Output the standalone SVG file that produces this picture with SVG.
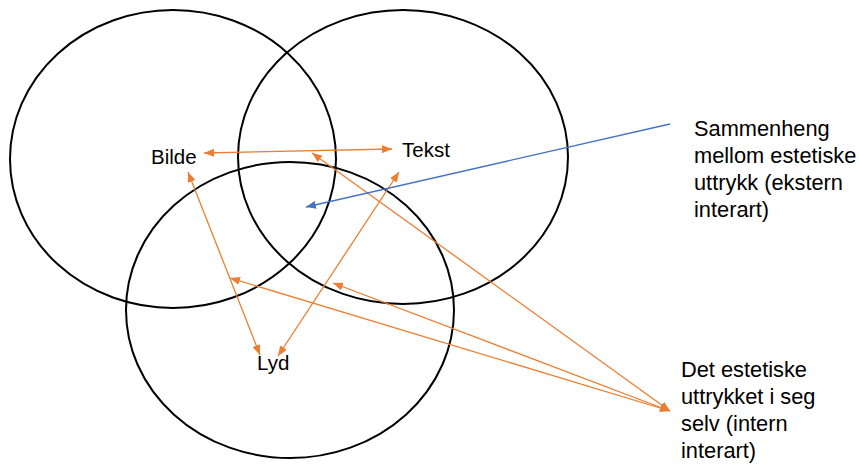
<svg xmlns="http://www.w3.org/2000/svg" width="859" height="467" viewBox="0 0 859 467">
<defs>
<marker id="ao" viewBox="0 0 10 8" refX="10" refY="4" markerWidth="10" markerHeight="8" markerUnits="userSpaceOnUse" orient="auto-start-reverse"><path d="M0,0 L10,4 L0,8 Z" fill="#ED7D31"/></marker>
<marker id="ab" viewBox="0 0 10 8" refX="10" refY="4" markerWidth="10" markerHeight="8" markerUnits="userSpaceOnUse" orient="auto-start-reverse"><path d="M0,0 L10,4 L0,8 Z" fill="#4472C4"/></marker>
<style>
.c{fill:none;stroke:#000;stroke-width:2}
.o{fill:none;stroke:#ED7D31;stroke-width:1.3;marker-start:url(#ao);marker-end:url(#ao)}
.b{fill:none;stroke:#4472C4;stroke-width:1.3;marker-end:url(#ab)}
text{font-family:"Liberation Sans",Arial,sans-serif;fill:#000}
.n{font-size:20.5px}
.l{font-size:21.8px}
</style>
</defs>
<g id="circle-left"><ellipse class="c" cx="173" cy="159" rx="163" ry="149"/></g>
<g id="circle-right"><ellipse class="c" cx="403" cy="157" rx="165" ry="147"/></g>
<g id="circle-bottom"><ellipse class="c" cx="290" cy="310" rx="164" ry="148"/></g>
<g id="connectors">
<line class="o" x1="204" y1="153" x2="392" y2="149"/>
<line class="o" x1="188" y1="172" x2="260" y2="355"/>
<line class="o" x1="399" y1="172" x2="278" y2="356"/>
<line class="o" x1="670" y1="411" x2="312" y2="153"/>
<line class="o" x1="670" y1="411" x2="230" y2="278"/>
<line class="o" x1="670" y1="411" x2="333" y2="283"/>
<line class="b" x1="670" y1="124" x2="306" y2="207"/>
</g>
<g id="bilde"><text class="n" x="151" y="164">Bilde</text></g>
<g id="tekst"><text class="n" x="402" y="157">Tekst</text></g>
<g id="lyd"><text class="n" x="257" y="370">Lyd</text></g>
<g id="label-ekstern"><text class="l" x="694" y="136">Sammenheng</text><text class="l" x="694" y="163">mellom estetiske</text><text class="l" x="694" y="190">uttrykk (ekstern</text><text class="l" x="694" y="217">interart)</text></g>
<g id="label-intern"><text class="l" x="681" y="377">Det estetiske</text><text class="l" x="681" y="404">uttrykket i seg</text><text class="l" x="681" y="431">selv (intern</text><text class="l" x="681" y="458">interart)</text></g>
</svg>
